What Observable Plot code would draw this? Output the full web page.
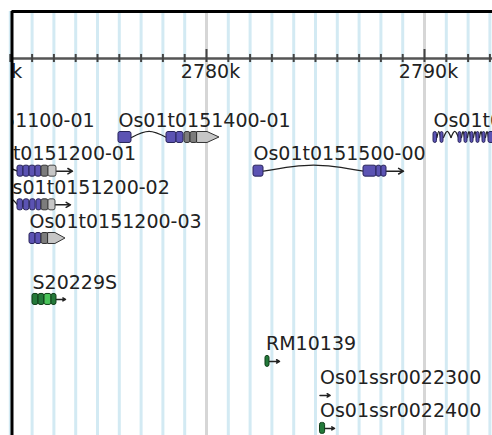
<!DOCTYPE html>
<html><head><meta charset="utf-8">
<script src="https://cdn.jsdelivr.net/npm/d3@7"></script>
<script src="https://cdn.jsdelivr.net/npm/@observablehq/plot@0.6"></script>
<style>html,body{margin:0;padding:0;background:#fff;overflow:hidden}</style>
</head><body><div id="chart"></div>
<script>
// ---- data (positions in kb, lanes are track rows) ----
const features = [
  {name: "Os01t0151100-01", start: 2766.97,  lane: 0},
  {name: "Os01t0151400-01", start: 2775.963, lane: 0},
  {name: "Os01t0151600-01", start: 2790.413, lane: 0},
  {name: "Os01t0151200-01", start: 2768.87,  lane: 1},
  {name: "Os01t0151500-00", start: 2782.156, lane: 1},
  {name: "Os01t0151200-02", start: 2770.42,  lane: 2},
  {name: "Os01t0151200-03", start: 2771.881, lane: 3},
  {name: "S20229S",         start: 2772.018, lane: 4.81},
  {name: "RM10139",         start: 2782.73,  lane: 6.65},
  {name: "Os01ssr0022300",  start: 2785.206, lane: 7.66},
  {name: "Os01ssr0022400",  start: 2785.206, lane: 8.64}
];

const exons = [
  // Os01t0151100-01 (out of view)
  {lane: 0, start: 2766.97, end: 2767.5, kind: "cds"},
  // Os01t0151400-01
  {lane: 0, start: 2775.963, end: 2776.56, kind: "cds"},
  {lane: 0, start: 2778.165, end: 2778.624, kind: "cds"},
  {lane: 0, start: 2778.624, end: 2778.945, kind: "cds"},
  {lane: 0, start: 2778.991, end: 2779.266, kind: "utr"},
  {lane: 0, start: 2779.266, end: 2779.587, kind: "utr"},
  // Os01t0151600-01
  {lane: 0, start: 2790.413, end: 2790.573, kind: "cds"},
  {lane: 0, start: 2790.734, end: 2790.872, kind: "cds"},
  {lane: 0, start: 2791.56,  end: 2791.697, kind: "cds"},
  {lane: 0, start: 2791.835, end: 2791.972, kind: "cds"},
  {lane: 0, start: 2792.11,  end: 2792.248, kind: "cds"},
  {lane: 0, start: 2792.385, end: 2792.523, kind: "cds"},
  {lane: 0, start: 2792.661, end: 2792.798, kind: "cds"},
  {lane: 0, start: 2792.936, end: 2793.257, kind: "cds"},
  // Os01t0151200-01
  {lane: 1, start: 2768.87,  end: 2769.4, kind: "cds"},
  {lane: 1, start: 2771.33,  end: 2771.605, kind: "cds"},
  {lane: 1, start: 2771.605, end: 2771.881, kind: "cds"},
  {lane: 1, start: 2771.881, end: 2772.156, kind: "cds"},
  {lane: 1, start: 2772.156, end: 2772.431, kind: "cds"},
  {lane: 1, start: 2772.431, end: 2772.752, kind: "utr"},
  {lane: 1, start: 2772.752, end: 2773.119, kind: "utrLight"},
  // Os01t0151500-00
  {lane: 1, start: 2782.156, end: 2782.615, kind: "cds"},
  {lane: 1, start: 2787.202, end: 2787.798, kind: "cds"},
  {lane: 1, start: 2787.798, end: 2788.028, kind: "cds"},
  {lane: 1, start: 2788.028, end: 2788.257, kind: "cds"},
  // Os01t0151200-02
  {lane: 2, start: 2770.42,  end: 2770.7, kind: "cds"},
  {lane: 2, start: 2771.33,  end: 2771.58, kind: "cds"},
  {lane: 2, start: 2771.62,  end: 2771.87, kind: "cds"},
  {lane: 2, start: 2771.91,  end: 2772.16, kind: "cds"},
  {lane: 2, start: 2772.2,   end: 2772.431, kind: "cds"},
  {lane: 2, start: 2772.431, end: 2772.752, kind: "utr"},
  {lane: 2, start: 2772.752, end: 2773.073, kind: "utrLight"},
  // Os01t0151200-03
  {lane: 3, start: 2771.881, end: 2772.156, kind: "cds"},
  {lane: 3, start: 2772.156, end: 2772.431, kind: "cds"},
  {lane: 3, start: 2772.431, end: 2772.752, kind: "utr"},
  // S20229S
  {lane: 4.81, start: 2772.018, end: 2772.294, kind: "marker"},
  {lane: 4.81, start: 2772.294, end: 2772.569, kind: "marker"},
  {lane: 4.81, start: 2772.569, end: 2772.89,  kind: "markerHi"},
  {lane: 4.81, start: 2772.89,  end: 2773.119, kind: "marker"},
  // RM10139
  {lane: 6.65, start: 2782.706, end: 2782.89, kind: "marker"},
  // Os01ssr0022400
  {lane: 8.64, start: 2785.206, end: 2785.44, kind: "marker"}
];

const introns = [
  {lane: 0, start: 2776.56,  end: 2778.165},
  {lane: 0, start: 2790.573, end: 2790.734},
  {lane: 0, start: 2790.872, end: 2791.216},
  {lane: 0, start: 2791.216, end: 2791.56},
  {lane: 0, start: 2791.697, end: 2791.835},
  {lane: 0, start: 2791.972, end: 2792.11},
  {lane: 0, start: 2792.248, end: 2792.385},
  {lane: 0, start: 2792.523, end: 2792.661},
  {lane: 0, start: 2792.798, end: 2792.936},
  {lane: 1, start: 2769.4,   end: 2771.33},
  {lane: 1, start: 2782.615, end: 2787.202},
  {lane: 2, start: 2770.7,   end: 2771.33}
];

const tailArrows = [
  {lane: 1,    start: 2773.119, end: 2773.853},
  {lane: 1,    start: 2788.257, end: 2789.037},
  {lane: 2,    start: 2773.073, end: 2773.761},
  {lane: 4.81, start: 2773.119, end: 2773.532},
  {lane: 6.65, start: 2782.89,  end: 2783.349},
  {lane: 7.66, start: 2785.206, end: 2785.67},
  {lane: 8.64, start: 2785.44,  end: 2785.872}
];

const utrArrows = [
  {lane: 0, start: 2779.587, shoulder: 2780.046, tip: 2780.596},
  {lane: 3, start: 2772.752, shoulder: 2773.07,  tip: 2773.532}
];

const minorTicks = d3.range(2771, 2794).filter(k => k % 10 !== 0);
const majorTicks = [2770, 2780, 2790];

// ---- layout/style constants ----
const xDomain = [2771.078, 2793.119];
const yDomain = [-3.742, 8.851];
const axisLane = -2.346;
const h = 0.163;      // half exon height in lanes
const rise = 0.18;    // intron hat rise in lanes
const colors = {
  cds: "#5b53b3", utr: "#7c7c7c", utrLight: "#c6c6c6",
  marker: "#23793a", markerHi: "#4ac45a"
};
const strokes = {
  cds: "#28245a", utr: "#333", utrLight: "#444",
  marker: "#0f3d18", markerHi: "#0f3d18"
};

const intronPts = introns.flatMap((d, i) => [
  {id: i, x: d.start, y: d.lane},
  {id: i, x: (d.start + d.end) / 2, y: d.lane - rise},
  {id: i, x: d.end, y: d.lane}
]);
const utrPts = utrArrows.flatMap((d, i) => [
  {id: i, x: d.start, y1: d.lane - h, y2: d.lane + h},
  {id: i, x: d.shoulder, y1: d.lane - h, y2: d.lane + h},
  {id: i, x: d.tip, y1: d.lane, y2: d.lane}
]);

const plot = Plot.plot({
  width: 492,
  height: 435,
  marginLeft: 11.5,
  marginRight: 0,
  marginTop: 11,
  marginBottom: 0,
  style: {fontFamily: "DejaVu Sans", background: "#fff"},
  x: {domain: xDomain, axis: null},
  y: {domain: yDomain, reverse: true, axis: null},
  marks: [
    Plot.ruleX(minorTicks, {stroke: "#d3eaf3", strokeWidth: 3}),
    Plot.ruleX(majorTicks, {stroke: "#d6d6d6", strokeWidth: 3, clip: true}),
    Plot.ruleY([axisLane], {stroke: "#555", strokeWidth: 2.5}),
    Plot.ruleX(minorTicks, {y1: axisLane - 0.12, y2: axisLane + 0.12, stroke: "#444", strokeWidth: 2}),
    Plot.ruleX(majorTicks, {y1: axisLane - 0.27, y2: axisLane + 0.12, stroke: "#444", strokeWidth: 2, clip: true}),
    Plot.text(majorTicks, {x: d => d, y: axisLane, dy: 13.5, dx: 4, text: d => d + "k",
      fontSize: 19, fill: "#222", clip: true}),
    Plot.line(intronPts, {x: "x", y: "y", z: "id", curve: "natural", stroke: "#222",
      strokeWidth: 1.3, clip: true}),
    Plot.arrow(tailArrows, {x1: "start", x2: "end", y1: "lane", y2: "lane",
      stroke: "#222", strokeWidth: 1.5, headLength: 7, clip: true}),
    Plot.rect(exons, {x1: "start", x2: "end", y1: d => d.lane - h, y2: d => d.lane + h,
      fill: d => colors[d.kind], stroke: d => strokes[d.kind], strokeWidth: 1, rx: 2, clip: true}),
    Plot.areaY(utrPts, {x: "x", y1: "y1", y2: "y2", z: "id", fill: colors.utrLight,
      stroke: "#333", strokeWidth: 1, clip: true}),
    Plot.text(features, {x: "start", y: "lane", dy: -17, text: "name", textAnchor: "start",
      fontSize: 19, fill: "#222", clip: true}),
    Plot.ruleX([xDomain[0]], {stroke: "#000", strokeWidth: 3}),
    Plot.ruleY([yDomain[0]], {stroke: "#000", strokeWidth: 3})
  ]
});
document.getElementById("chart").appendChild(plot);
</script>
</body></html>
